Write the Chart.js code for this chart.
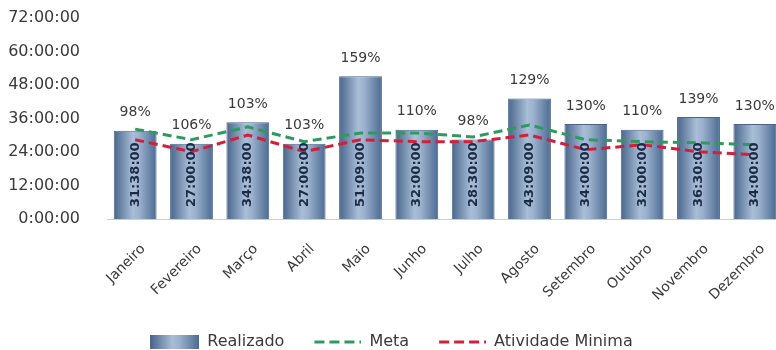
<!DOCTYPE html>
<html>
<head>
<meta charset="utf-8">
<script src="https://cdn.jsdelivr.net/npm/chart.js@4/dist/chart.umd.min.js"></script>
<style>
  html, body { margin: 0; padding: 0; background: #fff; overflow: hidden; }
  #wrap { width: 790px; height: 360px; }
</style>
</head>
<body>
<div id="wrap"><canvas id="myChart" width="790" height="360"></canvas></div>
<script>
var meses = ['Janeiro', 'Fevereiro', 'Março', 'Abril', 'Maio', 'Junho', 'Julho', 'Agosto', 'Setembro', 'Outubro', 'Novembro', 'Dezembro'];
var realizado = ['31:38:00', '27:00:00', '34:38:00', '27:00:00', '51:09:00', '32:00:00', '28:30:00', '43:09:00', '34:00:00', '32:00:00', '36:30:00', '34:00:00'];
var meta = [32.2, 28.4, 33.0, 27.7, 30.8, 30.8, 29.4, 33.7, 28.4, 27.7, 27.3, 26.6];
var atividadeMinima = [28.4, 24.1, 30.1, 24.1, 28.4, 27.7, 27.7, 30.1, 24.8, 26.6, 24.1, 23.0];
var percentuais = ['98%', '106%', '103%', '103%', '159%', '110%', '98%', '129%', '130%', '110%', '139%', '130%'];
var yTicks = [0, 12, 24, 36, 48, 60, 72];

function toHours(s) {
    var p = s.split(':');
    return +p[0] + (+p[1]) / 60 + (+p[2]) / 3600;
}
var realizadoHoras = realizado.map(toHours);

var fontFamily = "'DejaVu Sans', sans-serif";
var catPct = 0.76;

function barGradient(ctx, x0, x1) {
    var g = ctx.createLinearGradient(x0, 0, x1, 0);
    g.addColorStop(0, '#48658b');
    g.addColorStop(0.45, '#a9bed7');
    g.addColorStop(0.6, '#9ab0cc');
    g.addColorStop(1, '#4b6a92');
    return g;
}

function dashImage(color) {
    var c = document.createElement('canvas');
    c.width = 49; c.height = 14;
    var g = c.getContext('2d');
    g.strokeStyle = color;
    g.lineWidth = 3;
    g.setLineDash([10, 5]);
    g.beginPath();
    g.moveTo(2, 7); g.lineTo(49, 7);
    g.stroke();
    return c;
}
function boxImage() {
    var c = document.createElement('canvas');
    c.width = 49; c.height = 14;
    var g = c.getContext('2d');
    g.fillStyle = barGradient(g, 0, 49);
    g.fillRect(0, 0, 49, 14);
    return c;
}

var barLabels = {
    id: 'barLabels',
    afterDatasetsDraw: function (chart) {
        var ctx = chart.ctx;
        var meta0 = chart.getDatasetMeta(0);
        var base = chart.scales.y.getPixelForValue(0);
        ctx.save();
        meta0.data.forEach(function (bar, i) {
            // percentual acima da barra
            ctx.font = '14px ' + fontFamily;
            ctx.fillStyle = '#3a3a3a';
            ctx.textAlign = 'center';
            ctx.textBaseline = 'bottom';
            ctx.fillText(percentuais[i], bar.x, bar.y - 11);
            // hora dentro da barra, vertical
            ctx.save();
            ctx.translate(bar.x, base - 12);
            ctx.rotate(-Math.PI / 2);
            ctx.font = 'bold 13px ' + fontFamily;
            ctx.fillStyle = '#1b2a46';
            ctx.textAlign = 'left';
            ctx.textBaseline = 'middle';
            ctx.fillText(realizado[i], 0, 0);
            ctx.restore();
        });
        ctx.restore();
    }
};

var ctx = document.getElementById('myChart').getContext('2d');
new Chart(ctx, {
    data: {
        labels: meses,
        datasets: [{
            type: 'bar',
            label: 'Realizado',
            data: realizadoHoras,
            order: 2,
            backgroundColor: function (c) {
                var chart = c.chart;
                if (!chart.chartArea || !chart.scales.x) return '#7a93b3';
                var x = chart.scales.x.getPixelForValue(c.dataIndex);
                var w = chart.scales.x.width / meses.length * catPct;
                return barGradient(chart.ctx, x - w / 2, x + w / 2);
            },
            borderColor: '#4a6589',
            borderWidth: 1,
            categoryPercentage: catPct,
            barPercentage: 1
        }, {
            type: 'line',
            label: 'Meta',
            data: meta,
            order: 1,
            borderColor: '#2f9a60',
            borderWidth: 3,
            borderDash: [9, 5],
            pointRadius: 0,
            tension: 0,
            fill: false
        }, {
            type: 'line',
            label: 'Atividade Minima',
            data: atividadeMinima,
            order: 0,
            borderColor: '#d21f3c',
            borderWidth: 3,
            borderDash: [9, 5],
            pointRadius: 0,
            tension: 0,
            fill: false
        }]
    },
    options: {
        responsive: false,
        animation: false,
        layout: { padding: { left: 0, right: 7, top: 18, bottom: 0 } },
        plugins: {
            tooltip: { enabled: false },
            legend: {
                position: 'bottom',
                labels: {
                    usePointStyle: true,
                    pointStyleWidth: 49,
                    padding: 28,
                    color: '#3a3a3a',
                    font: { family: fontFamily, size: 16 },
                    generateLabels: function (chart) {
                        var imgs = [boxImage(), dashImage('#2f9a60'), dashImage('#d21f3c')];
                        return chart.data.datasets.map(function (ds, i) {
                            return {
                                text: ds.label,
                                pointStyle: imgs[i],
                                fillStyle: 'transparent',
                                strokeStyle: 'transparent',
                                lineWidth: 0,
                                fontColor: '#3a3a3a',
                                datasetIndex: i
                            };
                        });
                    }
                }
            }
        },
        scales: {
            x: {
                grid: { display: false, drawTicks: false },
                border: { display: true, color: '#d9cfa6', width: 1 },
                ticks: {
                    minRotation: 45,
                    maxRotation: 45,
                    padding: 22,
                    labelOffset: 8,
                    color: '#3a3a3a',
                    font: { family: fontFamily, size: 14 }
                },
                afterFit: function (s) {
                    s.height = 87;
                    s.paddingLeft = 0;
                    s.paddingRight = 0;
                }
            },
            y: {
                min: 0,
                max: 72,
                afterBuildTicks: function (s) {
                    s.ticks = yTicks.map(function (v) { return { value: v }; });
                },
                grid: { display: false, drawTicks: false },
                border: { display: false },
                ticks: {
                    padding: 27,
                    color: '#3a3a3a',
                    font: { family: fontFamily, size: 16 },
                    callback: function (v) { return v + ':00:00'; }
                },
                afterFit: function (s) {
                    s.width = 107;
                    s.paddingTop = 0;
                    s.paddingBottom = 0;
                }
            }
        }
    },
    plugins: [barLabels]
});
</script>
</body>
</html>
